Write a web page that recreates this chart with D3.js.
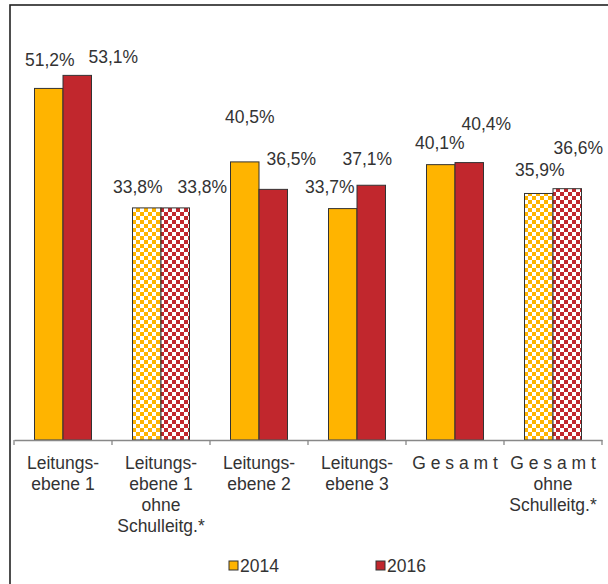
<!DOCTYPE html>
<html>
<head>
<meta charset="utf-8">
<script src="https://cdn.jsdelivr.net/npm/d3@7"></script>
<style>
  body { margin: 0; background: #fff; }
  svg { display: block; font-family: "Liberation Sans", Arial, sans-serif; }
</style>
</head>
<body>
<svg id="chart"></svg>
<script>
// data
const categories = [
  ["Leitungs-", "ebene 1"],
  ["Leitungs-", "ebene 1", "ohne", "Schulleitg.*"],
  ["Leitungs-", "ebene 2"],
  ["Leitungs-", "ebene 3"],
  ["G e s a m t"],
  ["G e s a m t", "ohne", "Schulleitg.*"]
];
const hatched = [false, true, false, false, false, true];
const years = ["2014", "2016"];
const values2014 = [51.2, 33.8, 40.5, 33.7, 40.1, 35.9];
const values2016 = [53.1, 33.8, 36.5, 37.1, 40.4, 36.6];

// hand-placed value labels (Excel style), pixel nudges from the default spot
const labelNudge = [
  [[1, -6], [36, 4]],
  [[-9, 1], [27, 1]],
  [[5, -23], [18, -8]],
  [[-13, 0], [-4, -4]],
  [[-1, 0], [17, -17]],
  [[1, -1], [11, -19]]
];

const width = 608, height = 584;
const margin = { top: 28, right: 6, bottom: 144, left: 14 };
const colors = { "2014": "#ffb400", "2016": "#c1272d" };

const svg = d3.select("#chart")
  .attr("width", width)
  .attr("height", height);

// checkered fills
const defs = svg.append("defs");
years.forEach(yr => {
  const p = defs.append("pattern")
    .attr("id", "check" + yr)
    .attr("patternUnits", "userSpaceOnUse")
    .attr("width", 8).attr("height", 8);
  p.append("rect").attr("width", 8).attr("height", 8).attr("fill", "#fff");
  p.append("rect").attr("width", 4).attr("height", 4).attr("fill", colors[yr]);
  p.append("rect").attr("x", 4).attr("y", 4).attr("width", 4).attr("height", 4).attr("fill", colors[yr]);
});

// outer frame (cut off right and bottom)
svg.append("rect")
  .attr("x", 10).attr("y", 5)
  .attr("width", 800).attr("height", 800)
  .attr("fill", "none")
  .attr("stroke", "#222")
  .attr("stroke-width", 1.6);

const data = categories.map((c, i) => ({
  i, lines: c, hatched: hatched[i],
  vals: [{ yr: "2014", v: values2014[i] }, { yr: "2016", v: values2016[i] }]
}));

const x0 = d3.scaleBand()
  .domain(d3.range(categories.length))
  .range([margin.left, width - margin.right]);

const x1 = d3.scaleBand()
  .domain(years)
  .range([x0.bandwidth() / 2 - 28.5, x0.bandwidth() / 2 + 28.5]);

const y = d3.scaleLinear()
  .domain([0, 60])
  .range([height - margin.bottom, margin.top]);

const fmt = v => d3.format(".1f")(v).replace(".", ",") + "%";

const groups = svg.append("g")
  .selectAll("g")
  .data(data)
  .join("g")
  .attr("transform", d => `translate(${x0(d.i)},0)`);

groups.selectAll("rect")
  .data(d => d.vals.map(v => ({ ...v, hatched: d.hatched })))
  .join("rect")
  .attr("x", d => x1(d.yr))
  .attr("y", d => y(d.v))
  .attr("width", x1.bandwidth())
  .attr("height", d => y(0) - y(d.v))
  .attr("fill", d => d.hatched ? `url(#check${d.yr})` : colors[d.yr])
  .attr("stroke", "#333")
  .attr("stroke-width", 1);

groups.selectAll("text.val")
  .data(d => d.vals.map((v, j) => ({ ...v, nudge: labelNudge[d.i][j] })))
  .join("text")
  .attr("class", "val")
  .attr("x", d => x1(d.yr) + x1.bandwidth() / 2 + d.nudge[0])
  .attr("y", d => y(d.v) - 16 + d.nudge[1])
  .attr("text-anchor", "middle")
  .attr("font-size", 17.5)
  .attr("fill", "#333")
  .text(d => fmt(d.v));

// x axis
const axis = svg.append("g")
  .attr("transform", `translate(0,${y(0)})`)
  .call(d3.axisBottom(x0).tickSize(0).tickFormat(""));
axis.select(".domain").attr("stroke", "#888").attr("stroke-width", 1.3);

svg.append("g")
  .selectAll("line")
  .data(d3.range(categories.length + 1))
  .join("line")
  .attr("x1", i => margin.left + i * x0.bandwidth())
  .attr("x2", i => margin.left + i * x0.bandwidth())
  .attr("y1", y(0))
  .attr("y2", y(0) + 5)
  .attr("stroke", "#888")
  .attr("stroke-width", 1.3);

// category labels
const catText = svg.append("g")
  .selectAll("text")
  .data(data)
  .join("text")
  .attr("x", d => x0(d.i) + x0.bandwidth() / 2)
  .attr("y", y(0) + 29)
  .attr("text-anchor", "middle")
  .attr("font-size", 17.5)
  .attr("fill", "#333");

catText.selectAll("tspan")
  .data(d => d.lines.map(l => ({ l, x: x0(d.i) + x0.bandwidth() / 2 })))
  .join("tspan")
  .attr("x", d => d.x)
  .attr("dy", (d, k) => k === 0 ? 0 : 21)
  .attr("xml:space", "preserve")
  .text(d => d.l);

// legend
const legend = svg.append("g")
  .selectAll("g")
  .data(years)
  .join("g")
  .attr("transform", (d, i) => `translate(${229 + i * 147},561)`);

legend.append("rect")
  .attr("width", 9).attr("height", 9)
  .attr("fill", d => colors[d])
  .attr("stroke", "#333");

legend.append("text")
  .attr("x", 11)
  .attr("y", 11)
  .attr("font-size", 17.5)
  .attr("fill", "#333")
  .text(d => d);
</script>
</body>
</html>
